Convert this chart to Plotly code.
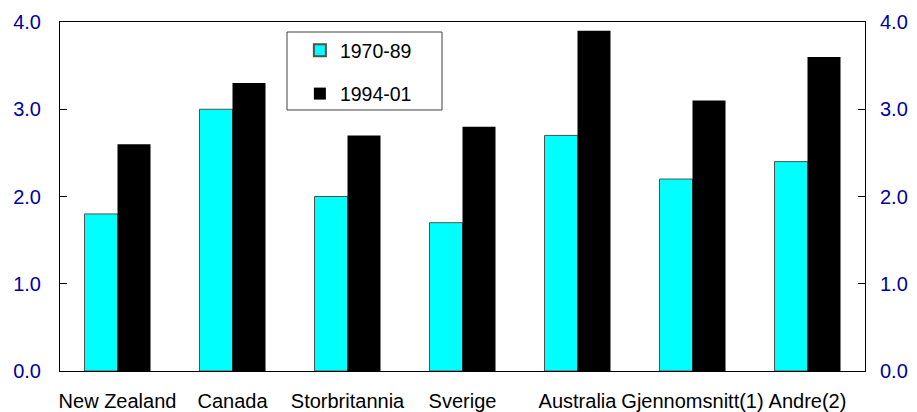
import plotly.graph_objects as go

categories = ["New Zealand", "Canada", "Storbritannia", "Sverige", "Australia", "Gjennomsnitt(1)", "Andre(2)"]
series_1970_89 = [1.8, 3.0, 2.0, 1.7, 2.7, 2.2, 2.4]
series_1994_01 = [2.6, 3.3, 2.7, 2.8, 3.9, 3.1, 3.6]
y_ticks = [0, 1, 2, 3, 4]
y_tick_labels = ["0.0", "1.0", "2.0", "3.0", "4.0"]

blue = "#0000A0"
fam = "Arial, Liberation Sans, sans-serif"
tickfont = dict(family=fam, size=20, color=blue)

fig = go.Figure()
fig.add_trace(go.Bar(x=categories, y=series_1970_89, name="1970-89",
                     marker=dict(color="#00FFFF", line=dict(color="#505050", width=1)),
                     legendgroup="a"))
fig.add_trace(go.Bar(x=categories, y=series_1994_01, name="1994-01",
                     marker=dict(color="#000000", line=dict(color="#000000", width=0)),
                     legendgroup="b"))
# invisible trace to drive the right axis
fig.add_trace(go.Scatter(x=[categories[0]], y=[0], yaxis="y2", mode="markers",
                         marker=dict(opacity=0), showlegend=False, hoverinfo="skip"))

fig.update_layout(
    width=909, height=404,
    margin=dict(l=52, r=52, t=14, b=41, autoexpand=False),
    plot_bgcolor="white", paper_bgcolor="white",
    barmode="group", bargap=0.426, bargroupgap=0,
    font=dict(family=fam, size=20, color="black"),
    showlegend=True,
    legend=dict(x=0.298, y=0.974, xanchor="left", yanchor="top",
                bgcolor="rgba(0,0,0,0)", borderwidth=0,
                font=dict(family=fam, size=19.5, color="black"), tracegroupgap=15,
                itemsizing="constant"),
    xaxis=dict(showline=True, linecolor="black", linewidth=1, mirror=True,
               ticks="", ticklabelstandoff=12, automargin=False,
               tickfont=dict(family=fam, size=20, color="black")),
    yaxis=dict(range=[0, 4], tickvals=y_ticks, ticktext=y_tick_labels,
               showline=True, linecolor="black", linewidth=1, mirror=True,
               showgrid=False, zeroline=False, ticks="inside", ticklen=7,
               tickcolor="black", tickfont=tickfont, ticklabelstandoff=14,
               automargin=False),
    yaxis2=dict(range=[0, 4], tickvals=y_ticks, ticktext=y_tick_labels,
                overlaying="y", side="right", showgrid=False, zeroline=False,
                ticks="inside", ticklen=7, tickcolor="black", tickfont=tickfont,
                ticklabelstandoff=14, showline=False, automargin=False),
    shapes=[dict(type="rect", xref="paper", yref="paper",
                 x0=(287 - 60) / 805, x1=(442 - 60) / 805,
                 y0=(371 - 110) / 349, y1=(371 - 32) / 349,
                 line=dict(color="#404040", width=1), fillcolor="rgba(0,0,0,0)")],
)

fig.write_html("out.html")
